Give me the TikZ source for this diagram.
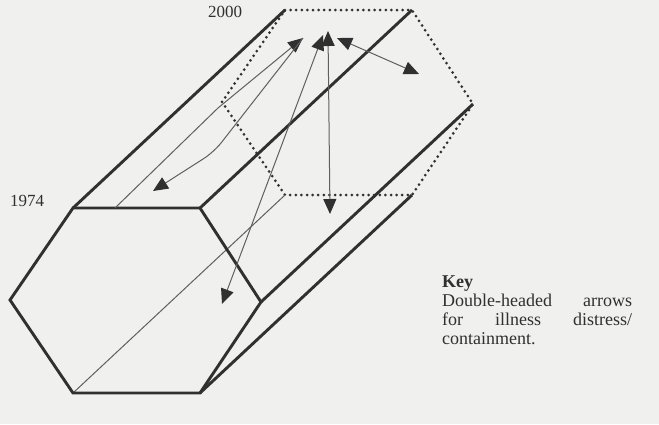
\documentclass[tikz,border=0pt]{standalone}
\usepackage{fontspec}
\setmainfont{Liberation Serif}
\usetikzlibrary{arrows.meta,calc}
\definecolor{paper}{RGB}{240,240,238}
\definecolor{ink}{RGB}{48,48,48}
\definecolor{pen}{RGB}{95,95,95}

\begin{document}
\begin{tikzpicture}[
  x=1pt, y=-1pt,
  face/.style={draw=ink, line width=2.9pt, line join=miter},
  hidden/.style={draw=ink, line width=3pt, line cap=round, dash pattern=on 0pt off 5.6pt},
  ray/.style={draw=pen, line width=1pt},
  year/.style={font=\fontsize{17}{19}\selectfont, text=ink, inner sep=0pt},
  >={Triangle[length=15pt,width=13pt,color=ink]}
]
\useasboundingbox[fill=paper] (0,0) rectangle (659,424);

% front face (1974)
\coordinate (f1) at (73,208);
\coordinate (f2) at (200,208);
\coordinate (f3) at (261,302);
\coordinate (f4) at (200,393);
\coordinate (f5) at (73,393);
\coordinate (f6) at (10,300);

% back face (2000)
\foreach \i in {1,...,6}
  \coordinate (b\i) at ($(f\i)+(212,-198)$);

\draw[hidden] (b1) -- (b2) -- (b3) -- (b4) -- (b5) -- (b6) -- cycle;
\draw[ray] (f5) -- (b5);
\draw[face] (f1) -- (b1);
\draw[face] (f2) -- (b2);
\draw[face] (f3) -- (b3);
\draw[face] (f4) -- (b4);
\draw[face] (f1) -- (f2) -- (f3) -- (f4) -- (f5) -- (f6) -- cycle;

% arrows
\coordinate (tipL) at (303,38);
\coordinate (tipC) at (323,35);
\coordinate (tipD) at (328,31);
\coordinate (tipR) at (337,38);
\coordinate (startA) at (115,208);
\coordinate (bendA) at (218,108);
\coordinate (bendB) at (214,152);
\coordinate (endB) at (153,191);
\coordinate (endC) at (222,304);
\coordinate (endD) at (330,214);
\coordinate (endE) at (419,74);

\draw[ray,->] (startA) -- (bendA) -- (tipL);
\draw[ray,->, rounded corners=12pt] (tipL) -- (bendB) -- (endB);
\draw[ray,<->] (tipC) -- (endC);
\draw[ray,<->] (tipD) -- (endD);
\draw[ray,<->] (tipR) -- (endE);

\node[year, anchor=base] (y1974) at (27,206) {1974};
\node[year, anchor=base] (y2000) at (225,17) {2000};

\node[year, font=\fontsize{18}{18.7}\selectfont, anchor=north west, text width=190pt, align=left] (key) at (442,276)
  {\textbf{Key}\\
   Double-headed\hfill arrows\\
   for\hfill illness\hfill distress/\\
   containment.};
\end{tikzpicture}
\end{document}
